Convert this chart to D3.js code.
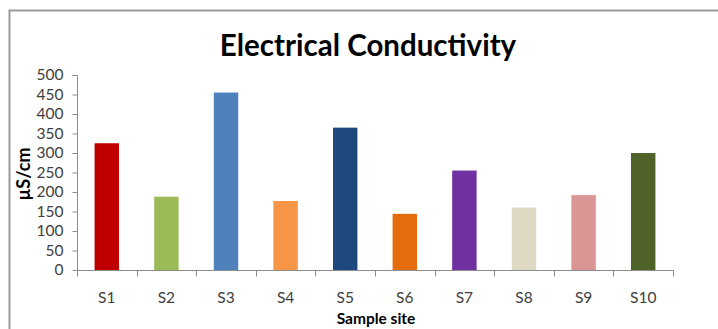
<!DOCTYPE html>
<html><head><meta charset="utf-8">
<script src="https://cdn.jsdelivr.net/npm/d3@7"></script>
<style>
html,body{margin:0;padding:0;background:#fff;overflow:hidden}
text{font-family:Lato,"Open Sans",sans-serif}
</style></head>
<body><svg id="c" width="718" height="329"></svg>
<script>
const categories = ["S1","S2","S3","S4","S5","S6","S7","S8","S9","S10"];
const values = [325, 188, 455, 177, 365, 144, 255, 160, 192, 300];
const colors = ["#C00000","#9BBB59","#4F81BD","#F79646","#1F497D","#E46C0A","#7030A0","#DDD9C3","#D99694","#4F6228"];
const yTicks = [0,50,100,150,200,250,300,350,400,450,500];
const title = "Electrical Conductivity";
const xTitle = "Sample site";
const yTitle = "µS/cm";

const svg = d3.select("#c");
// frame
svg.append("path").attr("d","M9.5,329 L9.5,10.5 L718,10.5").attr("fill","none").attr("stroke","#9a9a9a").attr("stroke-width",2);

const x = d3.scaleBand().domain(categories).range([77,673]).paddingInner(0.59).paddingOuter(0.295);
const y = d3.scaleLinear().domain([0,500]).range([270,75]);

const axisColor = "#8c8c8c";
// y axis
const ya = svg.append("g").attr("transform","translate(77.5,0)")
  .call(d3.axisLeft(y).tickValues(yTicks).tickSize(5).tickPadding(9));
ya.select(".domain").attr("stroke",axisColor).attr("d","M-5,"+(y(500)+0.5)+"H0V"+(y(0)+0.5));
ya.selectAll(".tick line").attr("stroke",axisColor);
ya.selectAll(".tick text").attr("font-size",15.5).attr("fill","#404040").style("font-family","Lato");

// bars
svg.append("g").selectAll("rect").data(values).join("rect")
  .attr("x",(d,i)=>x(categories[i]))
  .attr("y",d=>y(d))
  .attr("width",x.bandwidth())
  .attr("height",d=>y(0)-y(d))
  .attr("fill",(d,i)=>colors[i]);

// x axis
const xa = svg.append("g").attr("transform","translate(0,270.5)");
xa.append("line").attr("x1",77).attr("x2",673.5).attr("y1",0).attr("y2",0).attr("stroke",axisColor);
const bounds = d3.range(categories.length+1).map(i=>77+i*x.step());
xa.selectAll("line.t").data(bounds).join("line").attr("class","t")
  .attr("x1",d=>Math.round(d)+0.5).attr("x2",d=>Math.round(d)+0.5).attr("y1",0).attr("y2",6).attr("stroke",axisColor);
xa.selectAll("text").data(categories).join("text")
  .attr("x",d=>x(d)+x.bandwidth()/2).attr("y",32)
  .attr("text-anchor","middle").attr("font-size",15.5).attr("fill","#404040").text(d=>d);

// titles
svg.append("text").attr("x",368).attr("y",56).attr("text-anchor","middle")
  .attr("font-size",29.5).attr("font-weight","bold").attr("fill","#000").text(title);
svg.append("text").attr("x",376).attr("y",324).attr("text-anchor","middle")
  .attr("font-size",15.5).attr("font-weight","bold").attr("fill","#000").text(xTitle);
svg.append("text").attr("transform","translate(30,174) rotate(-90)").attr("text-anchor","middle")
  .attr("font-size",18).attr("font-weight","bold").attr("fill","#000").text(yTitle);
</script></body></html>
